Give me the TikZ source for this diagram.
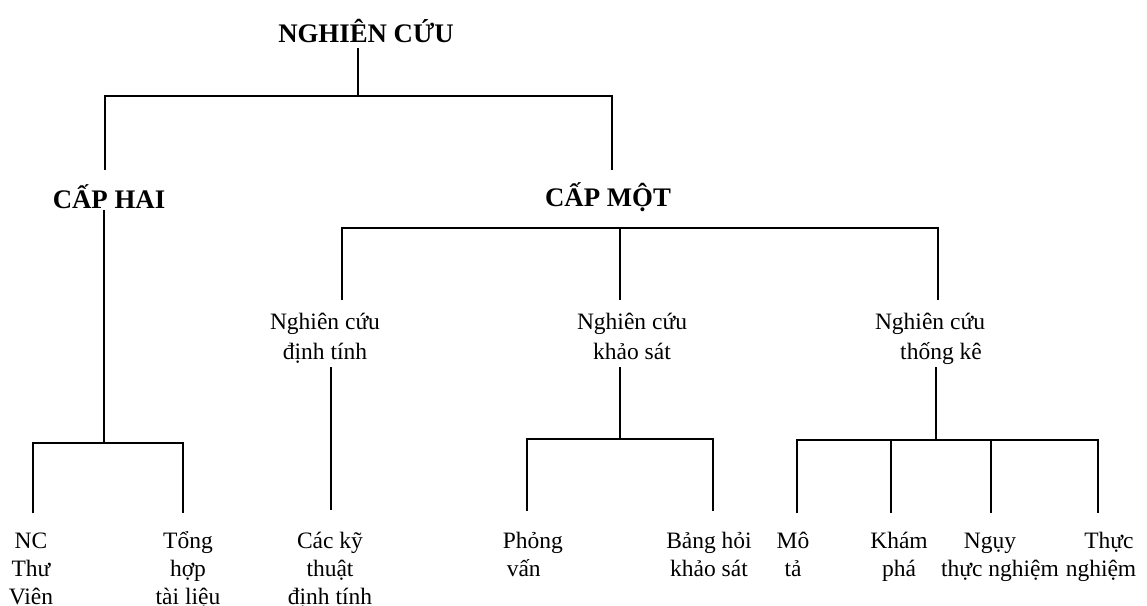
\documentclass[tikz,border=0pt]{standalone}
\usepackage{fontspec}
\setmainfont{Liberation Serif}
\begin{document}
\begin{tikzpicture}[x=1pt,y=-1pt,
  line width=1.5pt,
  title/.style={inner sep=0pt,anchor=base,font=\fontsize{26.8}{30}\selectfont\bfseries},
  branch/.style={inner sep=0pt,anchor=base,align=center,font=\fontsize{23.5}{30}\selectfont},
  leaf/.style={inner sep=0pt,anchor=base,align=center,font=\fontsize{23.5}{28}\selectfont}]
\useasboundingbox (0,0) rectangle (1147,605);

% level 0 and 1 titles
\node[title] (root) at (366,42) {NGHIÊN CỨU};
\node[title] (hai) at (109,208) {CẤP HAI};
\node[title] (mot) at (608,206) {CẤP MỘT};

% level 2 branches (anchored on the baseline of the last line)
\node[branch] (dt) at (325,359) {Nghiên cứu\\định tính};
\node[branch] (ks) at (632,359) {Nghiên cứu\\khảo sát};
\node[branch] (tk) at (930,359) {Nghiên cứu\\\hspace*{22pt}thống kê};

% leaves (anchored on the baseline of the last line)
\node[leaf] (nc) at (31,604) {NC\\Thư\\Viên};
\node[leaf] (th) at (188,604) {Tổng\\hợp\\tài liệu};
\node[leaf] (kt) at (330,604) {Các kỹ\\thuật\\định tính};
\node[leaf,align=left,anchor=base west] (pv) at (502,576) {Phỏng\\\hspace*{4pt}vấn};
\node[leaf] (bh) at (709,576) {Bảng hỏi\\khảo sát};
\node[leaf] (mt) at (793,576) {Mô\\tả};
\node[leaf] (kp) at (899,576) {Khám\\phá};
\node[leaf] (ng) at (1000,576) {Ngụy\hspace*{20pt}\\thực nghiệm};
\node[leaf] (tn) at (1101,576) {\hspace*{16pt}Thực\\nghiệm};

% junction and end points of the connectors
\coordinate (r-top) at (358,48);
\coordinate (r-bar) at (358,96);
\coordinate (hai-top) at (105,170);
\coordinate (mot-top) at (612,170);

\coordinate (hai-stem) at (104,210);
\coordinate (hai-bar) at (104,443);
\coordinate (nc-top) at (33,513);
\coordinate (th-top) at (183,513);

\coordinate (mot-bar) at (620,228);
\coordinate (dt-top) at (342,300);
\coordinate (ks-top) at (620,300);
\coordinate (tk-top) at (938,300);

\coordinate (dt-low) at (331,367);
\coordinate (kt-top) at (331,510);

\coordinate (ks-low) at (620,367);
\coordinate (ks-bar) at (620,439);
\coordinate (pv-top) at (527,511);
\coordinate (bh-top) at (713,511);

\coordinate (tk-low) at (936,367);
\coordinate (tk-bar) at (936,440);
\coordinate (mt-top) at (797,513);
\coordinate (kp-top) at (891,513);
\coordinate (ng-top) at (991,513);
\coordinate (tn-top) at (1098,513);

% root to level 1
\draw (r-top) -- (r-bar);
\draw (hai-top) |- (r-bar) -| (mot-top);

% secondary research
\draw (hai-stem) -- (hai-bar);
\draw (nc-top) |- (hai-bar) -| (th-top);

% primary research
\draw (dt-top) |- (mot-bar) -| (tk-top);
\draw (mot-bar) -- (ks-top);

\draw (dt-low) -- (kt-top);

\draw (ks-low) -- (ks-bar);
\draw (pv-top) |- (ks-bar) -| (bh-top);

\draw (tk-low) -- (tk-bar);
\draw (mt-top) |- (tk-bar) -| (tn-top);
\draw (kp-top) -- (kp-top |- tk-bar);
\draw (ng-top) -- (ng-top |- tk-bar);
\end{tikzpicture}
\end{document}
